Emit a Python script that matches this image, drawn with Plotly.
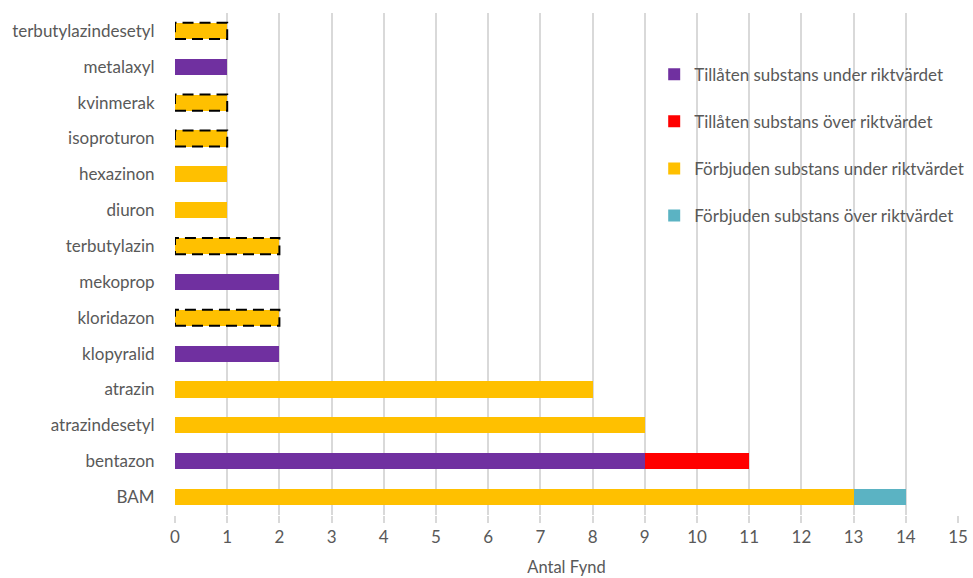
import plotly.graph_objects as go

# Substances, listed bottom to top on the category axis
substances = ["BAM", "bentazon", "atrazindesetyl", "atrazin", "klopyralid",
              "kloridazon", "mekoprop", "terbutylazin", "diuron", "hexazinon",
              "isoproturon", "kvinmerak", "metalaxyl", "terbutylazindesetyl"]

tillaten_under = [0, 9, 0, 0, 2, 0, 2, 0, 0, 0, 0, 0, 1, 0]
tillaten_over = [0, 2, 0, 0, 0, 0, 0, 0, 0, 0, 0, 0, 0, 0]
forbjuden_under = [13, 0, 9, 8, 0, 2, 0, 2, 1, 1, 1, 1, 0, 1]
forbjuden_over = [1, 0, 0, 0, 0, 0, 0, 0, 0, 0, 0, 0, 0, 0]

# Substances drawn with a dashed outline
dashed = ["kloridazon", "terbutylazin", "isoproturon", "kvinmerak", "terbutylazindesetyl"]

series = [
    ("Tillåten substans under riktvärdet", tillaten_under, "#7030A0"),
    ("Tillåten substans över riktvärdet", tillaten_over, "#FF0000"),
    ("Förbjuden substans under riktvärdet", forbjuden_under, "#FFC000"),
    ("Förbjuden substans över riktvärdet", forbjuden_over, "#5BB3C3"),
]

FONT = "Lato"
GREY = "#595959"
BAR_W = 0.45

fig = go.Figure()
for i, (name, vals, col) in enumerate(series):
    fig.add_trace(go.Bar(
        y=substances, x=vals, name=name, orientation="h",
        marker=dict(color=col, line=dict(width=0)),
        width=BAR_W, legendgroup=f"g{i}",
    ))

# Dashed outline around the flagged bars
shapes = []
for s in dashed:
    idx = substances.index(s)
    total = tillaten_under[idx] + tillaten_over[idx] + forbjuden_under[idx] + forbjuden_over[idx]
    shapes.append(dict(
        type="rect", xref="x", yref="y",
        x0=0, x1=total, y0=idx - BAR_W / 2, y1=idx + BAR_W / 2,
        line=dict(color="black", width=2, dash="11px,6px"), layer="above",
    ))

fig.update_layout(
    width=973, height=578,
    margin=dict(l=175, r=15, t=13, b=63, autoexpand=False),
    barmode="stack",
    plot_bgcolor="white", paper_bgcolor="white",
    font=dict(family=FONT, size=17, color=GREY),
    shapes=shapes,
    showlegend=True,
    legend=dict(
        x=0.612, y=0.913, xanchor="left", yanchor="top",
        bgcolor="rgba(0,0,0,0)", traceorder="grouped",
        tracegroupgap=22, font=dict(family=FONT, size=17, color=GREY),
    ),
    xaxis=dict(
        range=[0, 15], dtick=1, showgrid=True, gridcolor="#D9D9D9", gridwidth=2,
        zeroline=False, ticks="outside", ticklen=7, tickcolor="#D9D9D9", tickwidth=2,
        tickfont=dict(family=FONT, size=17, color=GREY),
        title=dict(text="Antal Fynd", font=dict(family=FONT, size=16.5, color=GREY), standoff=15),
        showline=False, automargin=False,
    ),
    yaxis=dict(
        type="category", categoryorder="array", categoryarray=substances,
        showgrid=False, zeroline=False, showline=False,
        ticks="outside", ticklen=16, tickcolor="rgba(0,0,0,0)",
        tickfont=dict(family=FONT, size=17, color=GREY),
        range=[-0.5, len(substances) - 0.5], automargin=False,
    ),
)

fig.write_html("out.html")
